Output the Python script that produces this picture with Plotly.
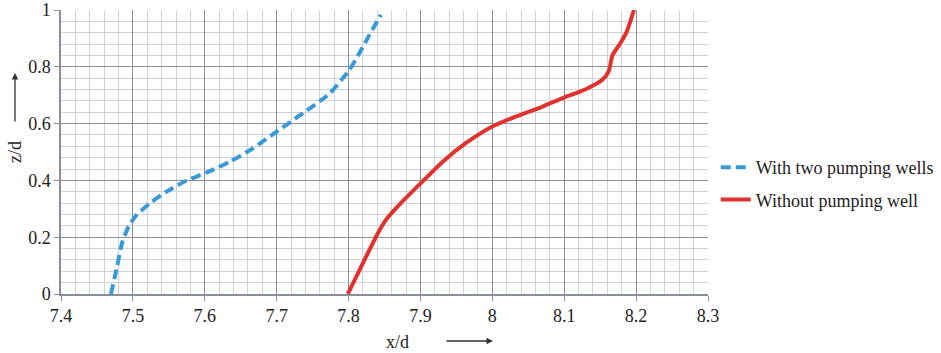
import plotly.graph_objects as go

blue_x = [7.4695, 7.478, 7.485, 7.494, 7.5055, 7.524, 7.547, 7.575, 7.603, 7.635, 7.667, 7.700, 7.737, 7.774, 7.801, 7.815, 7.829, 7.845]
blue_y = [0.0, 0.097, 0.18, 0.238, 0.279, 0.32, 0.361, 0.40, 0.428, 0.466, 0.513, 0.572, 0.637, 0.707, 0.789, 0.848, 0.912, 0.983]

red_x = [7.799, 7.82, 7.841, 7.852, 7.875, 7.898, 7.931, 7.963, 8.000, 8.033, 8.07, 8.097, 8.13, 8.153, 8.162, 8.167, 8.178, 8.187, 8.197]
red_y = [0.0, 0.109, 0.215, 0.261, 0.326, 0.384, 0.466, 0.531, 0.59, 0.625, 0.66, 0.689, 0.721, 0.754, 0.785, 0.84, 0.883, 0.924, 1.0]

series_names = ["With two pumping wells", "Without pumping well"]

font_family = "Liberation Serif"
major_grid = "#8a8f99"
minor_grid = "#cfd2d9"

fig = go.Figure()
fig.add_trace(go.Scatter(x=blue_x, y=blue_y, mode="lines", name=series_names[0],
                         line=dict(color="#3a9ad8", width=4, dash="10px,5px", shape="spline", smoothing=0.6),
                         legendgroup="a"))
fig.add_trace(go.Scatter(x=red_x, y=red_y, mode="lines", name=series_names[1],
                         line=dict(color="#e0332e", width=4, shape="spline", smoothing=0.6),
                         legendgroup="b"))

fig.update_layout(
    width=941, height=353,
    margin=dict(l=61, r=233, t=10, b=59, autoexpand=False),
    paper_bgcolor="white", plot_bgcolor="white",
    font=dict(family=font_family, size=17, color="#222222"),
    showlegend=True,
    legend=dict(x=1.012, y=(294 - 183.5) / 284, xanchor="left", yanchor="middle",
                font=dict(family=font_family, size=18, color="#222222"),
                tracegroupgap=6, traceorder="grouped",
                bgcolor="rgba(0,0,0,0)"),
    xaxis=dict(range=[7.4, 8.3], dtick=0.1, tick0=7.4, showgrid=True, gridcolor=major_grid, gridwidth=1,
               minor=dict(dtick=0.02, showgrid=True, gridcolor=minor_grid, gridwidth=1),
               ticks="outside", ticklen=5, tickcolor=major_grid, automargin=False,
               showline=True, linecolor=major_grid, linewidth=1.5, zeroline=False,
               tickfont=dict(family=font_family, size=18)),
    yaxis=dict(range=[0, 1], dtick=0.2, tick0=0, showgrid=True, gridcolor=major_grid, gridwidth=1,
               minor=dict(dtick=0.04, showgrid=True, gridcolor=minor_grid, gridwidth=1),
               ticks="outside", ticklen=5, tickcolor=major_grid, automargin=False,
               showline=True, linecolor=major_grid, linewidth=1.5, zeroline=False,
               tickfont=dict(family=font_family, size=18)),
)

# axis titles with arrows (positions in window pixels mapped to paper coords)
fig.add_annotation(text="x/d", xref="paper", yref="paper", x=(397 - 61) / 647, y=-(342 - 294) / 284,
                   showarrow=False, font=dict(family=font_family, size=18, color="#222222"),
                   xanchor="center", yanchor="middle")
fig.add_annotation(xref="paper", yref="paper", x=(493 - 61) / 647, y=-(341 - 294) / 284,
                   ax=-48, ay=0, showarrow=True, arrowhead=2, arrowsize=1, arrowwidth=1.3,
                   arrowcolor="#333333", text="")
fig.add_annotation(text="z/d", xref="paper", yref="paper", x=(15 - 61) / 647, y=(294 - 152) / 284,
                   showarrow=False, textangle=-90, font=dict(family=font_family, size=18, color="#222222"),
                   xanchor="center", yanchor="middle")
fig.add_annotation(xref="paper", yref="paper", x=(15 - 61) / 647, y=(294 - 73) / 284,
                   ax=0, ay=50, showarrow=True, arrowhead=2, arrowsize=1, arrowwidth=1.3,
                   arrowcolor="#333333", text="")

fig.write_html("out.html", config={"displayModeBar": False},
               post_script="document.body.style.margin='0';document.body.style.overflow='hidden';")
